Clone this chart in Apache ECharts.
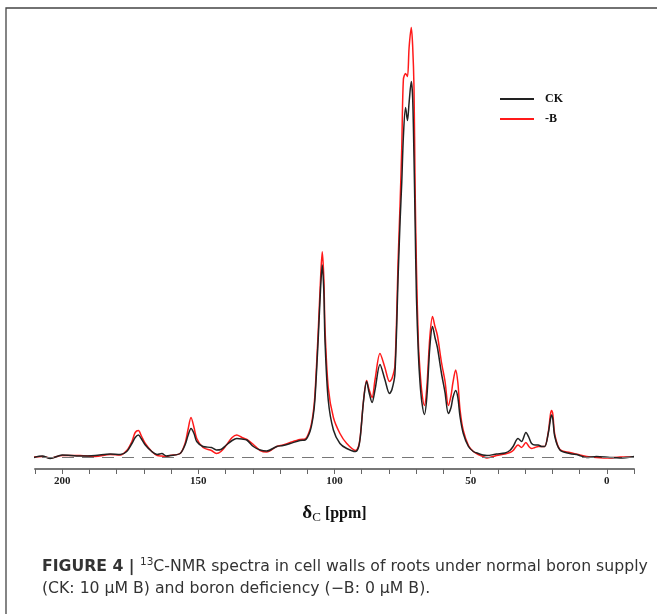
<!DOCTYPE html>
<html>
<head>
<meta charset="utf-8">
<script src="https://cdn.jsdelivr.net/npm/echarts@6/dist/echarts.min.js"></script>
<style>
  html, body { margin: 0; padding: 0; background: #fff; }
  #chart { width: 657px; height: 614px; }
</style>
</head>
<body>
<div id="chart"></div>
<script>
// 化学位移 (ppm)，两条谱线共用
var ppm = [
  210.5, 207.3, 204.4, 200.0, 193.4, 187.9, 182.4, 178.7, 176.3, 174.4,
  173.2, 172.0, 171.0, 169.5, 167.1, 165.1, 163.4, 161.8, 160.4, 156.7,
  154.9, 153.8, 152.7, 151.6, 150.6, 148.3, 145.2, 143.4, 141.7, 139.7,
  137.6, 135.9, 134.0, 132.2, 129.8, 127.3, 124.9, 121.2, 118.9, 116.3,
  112.7, 110.8, 109.0, 107.9, 107.2, 106.0, 105.1, 104.5, 103.9, 103.5,
  102.3, 100.4, 98.0, 95.5, 92.3, 91.2, 90.5, 89.3, 88.2, 87.3,
  86.2, 85.1, 83.3, 81.5, 79.8, 78.9, 77.8, 76.6, 75.9, 75.3,
  74.7, 73.9, 73.2, 72.6, 71.8, 71.3, 70.8, 70.4, 69.9, 69.2,
  68.6, 67.9, 67.0, 66.1, 65.0, 64.0, 63.1, 62.2, 60.7, 59.4,
  58.2, 57.2, 56.5, 55.5, 54.7, 53.9, 52.7, 50.8, 49.0, 47.2,
  45.5, 44.0, 40.5, 37.4, 35.6, 34.4, 32.6, 31.3, 29.7, 28.6,
  27.6, 26.4, 25.2, 23.9, 22.8, 21.5, 20.7, 20.3, 19.8, 19.1,
  17.2, 13.6, 10.5, 7.4, 3.8, -1.1, -4.8, -10
];
// CK: 10 μM B
var ckInt = [
  0, 1.5, -1, 2.5, 1.5, 2, 3.5, 3, 6, 14,
  20, 22.5, 19, 12.5, 6, 3, 4, 1.5, 2, 4,
  12.5, 22, 29, 24, 16, 11, 10, 7.5, 8, 12.5,
  17, 19, 18.5, 17.5, 11, 7.5, 6.5, 11, 12, 14,
  17, 17.5, 26, 40, 57.5, 117.5, 170, 192.5, 165, 117.5,
  57.5, 27.5, 14, 9, 6, 10, 21, 57.5, 76, 65,
  55, 68, 93, 78, 64, 68, 84, 184, 237, 275,
  321, 350, 337, 355, 376, 360, 300, 237, 160, 104,
  75, 55, 43, 60, 110, 131, 120, 110, 84, 65,
  44, 50, 60, 67, 60, 41, 24, 11, 6, 4,
  2.5, 2, 3.5, 4.5, 7, 11, 19, 16, 25, 20,
  14, 12.5, 12.5, 11, 11, 24, 38, 42.5, 38, 21,
  7.5, 4, 2.5, 0, 1, 0, -0.5, 1
];
// -B: 0 μM B
var bInt = [
  0.5, 1, -0.5, 2, 2, 1, 3, 2.5, 7, 16,
  25, 27, 22, 14, 6, 2, 1.5, 1, 2, 4,
  14, 28, 40, 30, 19, 10, 7, 4, 6, 12.5,
  20, 22.5, 20, 18, 13, 7, 5.5, 11, 12.5, 15,
  18, 18.5, 28, 43, 62, 125, 180, 205.8, 178, 130,
  70, 40, 24, 14, 7, 11, 22, 58, 77, 68,
  60, 78, 104, 90, 76, 79, 92, 200, 255, 310,
  378, 384, 381, 410, 430, 412, 370, 271, 190, 115,
  87, 65, 52, 70, 120, 141, 131, 122, 95, 76,
  52, 62, 75, 87.5, 75, 48, 27, 12, 6, 3,
  1, -0.5, 2, 3.5, 5, 7, 12.5, 10, 15, 11,
  9, 10, 11, 11, 11, 25, 43, 47, 43, 23,
  8, 5, 3, 1, 0, -0.5, 0.5, 0.5
];
var seriesNames = ['CK', '-B'];
var xTickLabels = [200, 150, 100, 50, 0];

function pairs(xs, ys) {
  return xs.map(function (x, i) { return [x, ys[i]]; });
}

var chart = echarts.init(document.getElementById('chart'), null, { renderer: 'canvas' });
var option = {
  animation: false,
  backgroundColor: '#fff',
  grid: { left: 35, right: 23, top: 20, bottom: 145 },
  legend: {
    data: seriesNames,
    orient: 'vertical',
    left: 495,
    top: 88,
    icon: 'rect',
    itemWidth: 34,
    itemHeight: 2,
    itemGap: 8,
    textStyle: {
      fontFamily: 'Liberation Serif',
      fontWeight: 'bold',
      fontSize: 12,
      color: '#111',
      padding: [0, 0, 0, 6]
    }
  },
  xAxis: {
    type: 'value',
    inverse: true,
    min: -10,
    max: 210,
    interval: 10,
    name: '{d|δ}{s|C}{p| [ppm]}',
    nameLocation: 'middle',
    nameGap: 34,
    nameTextStyle: {
      rich: {
        d: { fontFamily: 'Liberation Serif', fontWeight: 'bold', fontSize: 19, color: '#111' },
        s: { fontFamily: 'Liberation Serif', fontSize: 13, color: '#111', padding: [8, 0, 0, 0] },
        p: { fontFamily: 'Liberation Serif', fontWeight: 'bold', fontSize: 16, color: '#111' }
      }
    },
    axisLine: { onZero: false, lineStyle: { color: '#777', width: 2 } },
    axisTick: { show: true, length: 5, lineStyle: { color: '#666', width: 1 } },
    axisLabel: {
      margin: 7,
      fontFamily: 'Liberation Serif',
      fontWeight: 'bold',
      fontSize: 11,
      color: '#222',
      formatter: function (v) {
        return xTickLabels.indexOf(v) >= 0 ? String(v) : '';
      }
    },
    splitLine: { show: false }
  },
  yAxis: {
    type: 'value',
    min: -11.5,
    max: 437.5,
    show: false
  },
  series: [
    {
      name: '-B',
      type: 'line',
      data: pairs(ppm, bInt),
      symbol: 'none',
      smooth: 0.3,
      color: '#ff1a1a',
      lineStyle: { color: '#ff1a1a', width: 1.5 },
      z: 2,
      markLine: {
        silent: true,
        symbol: 'none',
        label: { show: false },
        lineStyle: { color: '#777', width: 1.2, type: [12, 8] },
        data: [{ yAxis: 0 }]
      }
    },
    {
      name: 'CK',
      type: 'line',
      data: pairs(ppm, ckInt),
      symbol: 'none',
      smooth: 0.3,
      color: '#222',
      lineStyle: { color: '#222', width: 1.5 },
      z: 3
    }
  ],
  graphic: [
    {
      type: 'rect',
      shape: { x: 6, y: 8, width: 720, height: 720 },
      style: { fill: 'none', stroke: '#444', lineWidth: 1.3 },
      silent: true
    },
    {
      type: 'text',
      left: 42,
      top: 557,
      style: {
        text: '{b|FIGURE 4 | }{u|13}{n|C-NMR spectra in cell walls of roots under normal boron supply}',
        rich: {
          b: { fontFamily: 'DejaVu Sans', fontWeight: 'bold', fontSize: 15.7, fill: '#333', lineHeight: 20 },
          u: { fontFamily: 'DejaVu Sans', fontSize: 10.5, fill: '#333', verticalAlign: 'top', lineHeight: 20 },
          n: { fontFamily: 'DejaVu Sans', fontSize: 15.7, fill: '#333', lineHeight: 20 }
        }
      }
    },
    {
      type: 'text',
      left: 42,
      top: 581,
      style: {
        text: '(CK: 10 μM B) and boron deficiency (−B: 0 μM B).',
        fontFamily: 'DejaVu Sans',
        fontSize: 15.7,
        fill: '#333'
      }
    }
  ]
};
chart.setOption(option);
</script>
</body>
</html>
